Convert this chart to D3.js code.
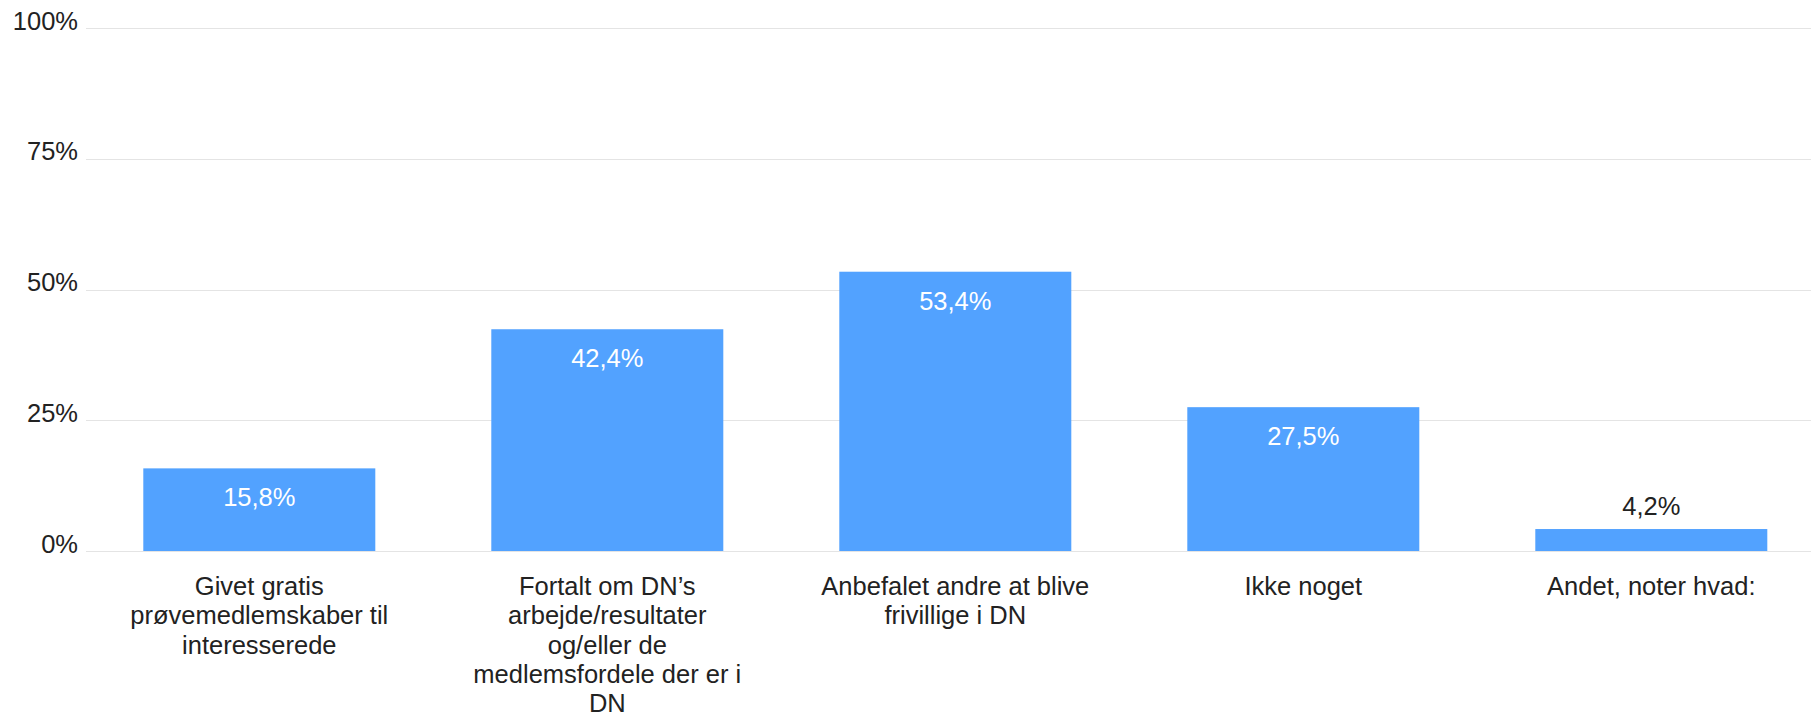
<!DOCTYPE html>
<html>
<head>
<meta charset="utf-8">
<script src="https://cdn.jsdelivr.net/npm/d3@7"></script>
<style>
  html, body { margin: 0; padding: 0; background: #fff; }
  svg { display: block; font-family: "Liberation Sans", Arial, sans-serif; }
</style>
</head>
<body>
<svg id="chart" width="1811" height="717"></svg>
<script>
const categories = [
  ["Givet gratis", "prøvemedlemskaber til", "interesserede"],
  ["Fortalt om DN’s", "arbejde/resultater", "og/eller de", "medlemsfordele der er i", "DN"],
  ["Anbefalet andre at blive", "frivillige i DN"],
  ["Ikke noget"],
  ["Andet, noter hvad:"]
];
const values = [15.8, 42.4, 53.4, 27.5, 4.2];
const valueLabels = ["15,8%", "42,4%", "53,4%", "27,5%", "4,2%"];
const yTicks = [0, 25, 50, 75, 100];
const yTickLabels = ["0%", "25%", "50%", "75%", "100%"];

(function () {
const svg = d3.select("#chart");
const plotLeft = 85.3, plotRight = 1825.3, gridRight = 1811, plotTop = 28, plotBottom = 551;
const fontSize = 25.5;

const x = d3.scaleBand()
  .domain(d3.range(values.length))
  .range([plotLeft, plotRight])
  .paddingInner(1 / 3)
  .paddingOuter(1 / 6);

const y = d3.scaleLinear().domain([0, 100]).range([plotBottom, plotTop]);

// gridlines
svg.append("g")
  .selectAll("line")
  .data(yTicks)
  .join("line")
  .attr("x1", 86)
  .attr("x2", gridRight)
  .attr("y1", d => Math.round(y(d)) + 0.5)
  .attr("y2", d => Math.round(y(d)) + 0.5)
  .attr("stroke", "#e4e4e4")
  .attr("stroke-width", 1);

// y tick labels
svg.append("g")
  .selectAll("text")
  .data(yTicks)
  .join("text")
  .attr("x", 78)
  .attr("y", d => y(d) + 1.5)
  .attr("text-anchor", "end")
  .attr("font-size", fontSize)
  .attr("fill", "#222")
  .text((d, i) => yTickLabels[i]);

// bars
svg.append("g")
  .selectAll("rect")
  .data(values)
  .join("rect")
  .attr("x", (d, i) => x(i))
  .attr("width", x.bandwidth())
  .attr("y", d => y(d))
  .attr("height", d => y(0) - y(d))
  .attr("fill", "#52a2ff");

// value labels
svg.append("g")
  .selectAll("text")
  .data(values)
  .join("text")
  .attr("x", (d, i) => x(i) + x.bandwidth() / 2)
  .attr("y", d => (y(0) - y(d) > 50) ? y(d) + 38 : y(d) - 14)
  .attr("text-anchor", "middle")
  .attr("font-size", fontSize)
  .attr("fill", d => (y(0) - y(d) > 50) ? "#ffffff" : "#222")
  .text((d, i) => valueLabels[i]);

// category labels
const cat = svg.append("g")
  .selectAll("text")
  .data(categories)
  .join("text")
  .attr("x", (d, i) => x(i) + x.bandwidth() / 2)
  .attr("y", plotBottom + 44)
  .attr("text-anchor", "middle")
  .attr("font-size", fontSize)
  .attr("fill", "#222");

cat.selectAll("tspan")
  .data(d => d)
  .join("tspan")
  .attr("x", function () { return d3.select(this.parentNode).attr("x"); })
  .attr("dy", (d, i) => i === 0 ? 0 : 29.3)
  .text(d => d);
})();
</script>
</body>
</html>
